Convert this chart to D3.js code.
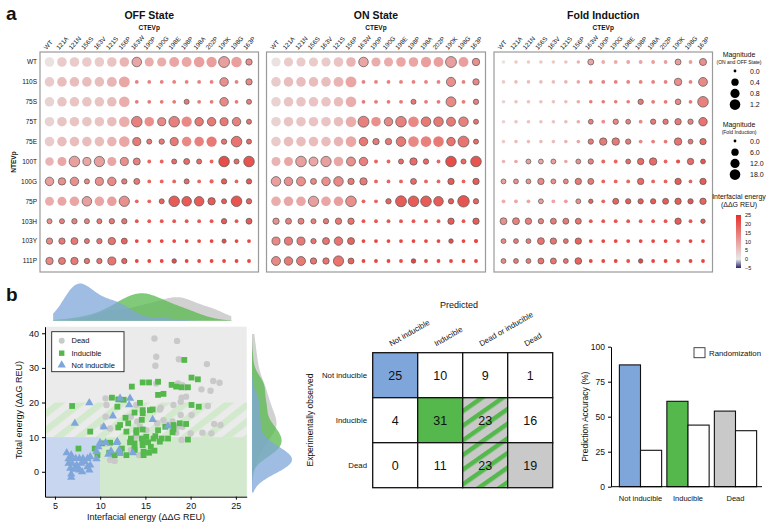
<!DOCTYPE html>
<html><head><meta charset="utf-8">
<script src="https://cdn.jsdelivr.net/npm/d3@7"></script>
<style>
body{margin:0;background:#fff}
svg{display:block}
text{font-family:"Liberation Sans",Arial,Helvetica,sans-serif;fill:#111}
</style>
</head><body>
<svg id="c" width="772" height="526"></svg>
<script>
// ---------------- DATA (panel a) ----------------
const cols = ["WT","121A","121N","156S","163V","121S","156P","163W","190P","190G","198E","198P","198A","202P","190K","198G","163P"];
const rows = ["WT","110S","75S","75T","75E","100T","100G","75P","103H","103Y","111P"];
const panelTitles = ["OFF State","ON State","Fold Induction"];

const energy = [
 [1,4,4,4,4,5,7,9,8,8,9,9,10,10,10,10,12],
 [4,6,6,6,6,7,9,14,14,14,14,14,14,14,12,14,13],
 [3,5,5,5,5,6,8,15,15,15,15,15,15,15,13,15,14],
 [3,5,5,5,5,6,8,14,12,13,14,13,15,15,15,14,16],
 [4,6,6,6,6,7,9,15,15,15,15,13,14,15,16,16,17],
 [7,9,10,9,10,9,12,14,18,18,17,17,17,18,21,17,20],
 [10,12,12,13,12,13,15,15,18,18,18,17,18,18,19,18,19],
 [8,9,9,10,9,10,12,18,18,18,19,19,19,19,19,20,18],
 [12,14,14,14,15,15,16,20,20,20,20,20,20,20,19,20,19],
 [13,15,15,16,16,16,18,22,22,22,22,22,22,22,21,22,22],
 [13,15,15,16,16,16,18,22,22,22,21,22,22,22,22,22,22]
];

const offMag = [
 [0.9,0.9,0.9,0.9,0.9,0.9,0.9,0.9,0.8,0.8,1.0,1.0,1.2,1.1,1.3,1.2,0.25],
 [0.9,0.9,0.9,0.9,0.9,1.0,1.3,0.02,0.02,0.02,0.02,0.02,0.02,0.02,0.65,0.02,0.25],
 [0.9,0.9,0.9,0.9,0.9,0.9,1.2,0.02,0.02,0.02,0.02,0.1,0.02,0.02,0.65,0.02,0.1],
 [0.9,0.9,0.9,0.9,0.9,0.9,1.2,1.2,0.9,0.55,1.2,1.1,0.64,0.64,0.55,0.64,0.1],
 [0.9,0.9,0.9,0.9,0.9,0.9,1.2,0.55,0.1,0.13,0.55,0.9,0.9,1.1,0.13,1.2,0.1],
 [0.64,0.75,1.2,0.55,1.1,0.75,0.55,0.35,0.02,0.02,0.1,0.2,0.1,0.02,1.2,0.1,1.2],
 [0.64,0.42,0.64,0.1,0.55,0.64,0.13,0.2,0.02,0.02,0.02,0.1,0.02,0.04,0.13,0.02,0.13],
 [0.75,0.75,0.9,0.9,0.9,0.9,1.1,0.02,0.02,0.1,1.2,0.9,0.9,0.42,0.1,1.2,0.13],
 [0.1,0.1,0.13,0.1,0.1,0.13,0.13,0.02,0.02,0.02,0.02,0.02,0.02,0.02,0.13,0.02,0.2],
 [0.25,0.25,0.35,0.1,0.13,0.42,0.2,0.02,0.02,0.02,0.02,0.02,0.02,0.02,0.04,0.02,0.02],
 [0.42,0.35,0.42,0.13,0.13,0.55,0.13,0.02,0.02,0.02,0.06,0.02,0.02,0.02,0.02,0.02,0.02]
];
const onMag = [
 [0.8,0.8,0.8,0.8,0.8,0.9,0.9,0.9,0.8,0.8,0.9,0.9,1.1,1.0,1.3,1.0,0.42],
 [0.9,0.9,0.9,0.9,0.9,1.0,1.3,0.02,0.02,0.02,0.02,0.02,0.02,0.02,0.8,0.02,0.25],
 [0.9,0.9,0.9,0.9,0.9,0.9,1.2,0.02,0.02,0.02,0.02,0.1,0.02,0.02,1.0,0.02,0.13],
 [0.9,0.9,0.9,0.9,0.9,0.9,1.2,1.3,0.9,0.64,1.2,1.2,0.9,0.9,0.75,0.9,0.1],
 [0.9,0.9,0.9,0.9,0.9,0.9,1.2,0.64,0.25,0.25,0.9,1.2,1.2,1.2,0.64,1.3,0.1],
 [0.75,0.75,1.2,0.75,1.1,0.9,0.75,0.64,0.02,0.02,0.1,0.42,0.13,0.02,1.2,0.1,1.2],
 [0.9,0.64,0.75,0.2,0.64,0.9,0.25,0.42,0.02,0.02,0.02,0.2,0.02,0.02,0.25,0.02,0.25],
 [0.9,0.9,0.9,1.1,0.9,0.9,1.2,0.02,0.02,0.13,1.3,1.2,1.2,0.9,0.13,1.5,0.13],
 [0.25,0.2,0.2,0.1,0.13,0.25,0.25,0.02,0.02,0.02,0.02,0.02,0.02,0.02,0.25,0.02,0.25],
 [0.55,0.55,0.55,0.13,0.35,0.64,0.35,0.02,0.02,0.02,0.02,0.02,0.02,0.02,0.06,0.02,0.04],
 [0.75,0.64,0.75,0.25,0.25,1.1,0.2,0.02,0.02,0.02,0.02,0.06,0.02,0.02,0.02,0.02,0.02]
];
const foldMag = [
 [0.2,0.2,0.2,0.2,0.2,0.2,0.2,3,0.3,0.3,0.3,0.3,0.3,0.3,3,0.3,5.5],
 [0.2,0.2,0.2,0.2,0.2,0.2,0.2,0.3,0.3,0.3,0.3,0.3,0.3,0.3,6.4,0.3,11],
 [0.2,0.2,0.2,0.2,0.2,0.2,0.2,0.2,0.2,0.2,0.2,2,0.3,0.3,2.5,0.3,18],
 [0.2,0.2,0.2,0.2,0.2,0.2,0.2,1.3,0.3,1.9,1.3,0.3,1.9,1.9,3.8,1.9,9.6],
 [0.2,0.2,0.2,0.2,0.2,0.2,0.2,1.9,6.4,6.4,1.9,0.3,0.3,0.3,6.4,1.3,3.8],
 [0.2,0.2,1.3,1.3,1.3,0.2,1.3,1.9,0.3,0.3,1.3,3.8,6.4,0.3,0.5,3.8,1.3],
 [1.3,1.3,1.3,3.8,1.3,1.3,3.8,3,0.3,0.3,0.3,3.8,0.3,0.3,3.8,0.3,3.8],
 [0.3,0.3,0.3,1.3,0.3,0.3,1.3,0.8,0.3,3,1.9,1.9,1.9,3,3.8,1.9,3.8],
 [5,5,3.8,1.9,3,3,3,0.3,0.3,0.3,0.3,0.3,0.3,0.3,3.8,0.3,0.8],
 [1.3,1.3,1.3,5,3.8,1.3,3.8,0.3,0.3,0.3,0.3,0.3,0.3,0.3,0.3,0.3,0.3],
 [1.3,1.3,1.3,3,3,1.3,4.5,0.3,0.3,0.3,0.3,0.8,0.3,0.3,0.3,0.3,0.3]
];
const offOutline = ["00000001000000101","00000000000000101","00000000000100101","00000001011011111","00000001111000111","00111011001110111","11111111000100101","00010010011111111","11111110000000101","11111110000000100","11111110001000000"];
const onOutline  = ["00000001000000101","00000000000000101","00000000000100101","00000001011011111","00000001111000111","00111011001110111","11111111000100101","00010010011111111","11111110000000101","11111110000000100","11111110000100000"];
const foldOutline= ["00000001000000101","00000000000000101","00000000000100101","00000001011011111","00000001111000111","00111011001110011","11111111000100101","00010011011111111","11111110000000101","11111110000000000","11111110000100000"];

const legendOnOff = [0.0,0.4,0.8,1.2];
const legendFold = [0.0,6.0,12.0,18.0];
const energyTicks = [25,20,15,10,5,0,-5];

// ---------------- DATA (panel b) ----------------
const deadPts = [[16.0,38.5],[18.5,37.8],[16.2,33.2],[16.1,30.6],[18.7,32.5],[21.8,31.1],[16.2,25.5],[18.6,25.5],[19.1,25.0],[19.4,24.4],[21.2,23.8],[22.5,26.2],[23.2,25.7],[22.2,23.4],[19.0,21.4],[19.5,21.7],[18.9,20.2],[18.1,19.3],[16.7,18.5],[21.9,19.0],[20.1,16.4],[18.9,16.4],[17.0,14.9],[18.0,14.5],[18.6,13.0],[19.1,13.0],[18.4,11.3],[20.0,11.1],[21.3,11.3],[22.3,11.1],[22.6,13.8],[23.3,13.5],[19.0,9.2],[10.6,21.2],[10.7,19.3],[10.6,15.9],[10.3,13.0],[11.1,12.5],[14.0,19.3],[14.4,13.0],[14.1,14.5],[15.1,12.0],[15.1,9.3],[13.9,10.1],[11.1,3.4],[11.6,3.1],[13.4,6.3],[14.3,4.8],[16.6,18.0],[17.5,13.5],[16.3,14.0],[10.7,8.2],[13.4,15.9]];
const induciblePts = [[6.9,19.0],[7.6,6.7],[8.9,11.6],[9.4,6.7],[9.7,4.8],[11.1,8.4],[11.6,4.8],[11.3,21.4],[12.0,20.9],[12.6,20.8],[11.9,18.8],[12.8,15.6],[12.0,12.8],[12.2,13.5],[12.9,11.6],[13.3,8.5],[12.4,6.7],[12.9,4.8],[13.5,24.6],[13.8,17.1],[14.0,11.3],[13.8,8.2],[13.8,6.7],[14.4,19.9],[14.6,15.0],[14.7,12.2],[14.6,9.6],[14.7,25.8],[15.4,25.8],[14.7,17.8],[14.7,16.9],[14.7,8.7],[14.7,7.7],[14.8,5.8],[14.8,4.8],[15.3,8.5],[15.4,5.5],[15.5,17.8],[15.8,18.0],[15.9,9.6],[16.1,10.3],[16.4,26.0],[16.4,22.2],[16.4,12.0],[16.6,8.7],[16.8,9.6],[17.0,22.5],[15.6,7.2],[16.0,6.1],[17.2,13.0],[17.5,9.6],[17.9,25.1],[18.1,12.2],[18.0,11.4],[18.4,24.6],[18.8,14.0],[19.0,24.4],[19.3,32.3],[19.5,13.8],[19.7,24.4],[19.7,9.3],[20.1,27.2],[20.1,19.3],[20.8,26.7],[20.9,18.8],[13.4,9.6],[14.0,12.0],[15.1,10.1],[13.1,14.0],[11.0,5.5],[10.2,8.2],[12.2,5.5],[13.8,6.3],[18.1,13.5]];
const notInduciblePts = [[6.3,5.5],[6.5,3.7],[6.8,3.8],[7.3,3.8],[7.7,3.8],[8.1,3.8],[8.6,3.8],[8.9,4.3],[6.5,2.4],[6.9,2.4],[7.4,1.9],[7.9,2.4],[8.6,1.4],[6.7,1.0],[7.1,0.7],[7.7,0.5],[6.8,-0.7],[8.0,0.0],[8.8,0.5],[6.8,-1.6],[9.6,5.8],[9.6,3.7],[9.8,7.2],[10.0,8.4],[10.6,8.4],[10.9,5.0],[11.8,8.4],[12.1,6.3],[12.2,5.3],[13.6,5.5],[11.2,6.0],[7.2,14.0],[8.8,19.9],[13.2,19.3],[12.2,21.2],[11.4,16.1],[15.8,15.1],[17.5,13.2],[13.3,21.2],[6.8,4.8],[8.3,2.9],[7.5,1.4],[8.9,1.9],[11.9,8.7],[10.4,13.0]];

const predictedLabels = ["Not inducible","Inducible","Dead or inducible","Dead"];
const observedLabels = ["Not inducible","Inducible","Dead"];
const confusion = [[25,10,9,1],[4,31,23,16],[0,11,23,19]];

const accCats = ["Not inducible","Inducible","Dead"];
const accuracy = [87,61,54];
const randomAcc = [26,44,40];

// ---------------- DRAW ----------------
const svg = d3.select("#c");
const FONT = '"Liberation Sans",Arial,Helvetica,sans-serif';
const blue="#7fa6da", green="#55b84c", grey="#c9c9c9";
const lightBlue="#c8d6ef", lightGreen="#d3e9cd", bgGrey="#ebebeb";

const defs = svg.append("defs");
defs.append("pattern").attr("id","cmStripe").attr("patternUnits","userSpaceOnUse")
  .attr("width",12).attr("height",12).attr("patternTransform","rotate(55)")
  .call(p=>{p.append("rect").attr("width",12).attr("height",12).attr("fill",grey);
            p.append("rect").attr("width",4.5).attr("height",12).attr("fill",green);});
defs.append("pattern").attr("id","bandStripe").attr("patternUnits","userSpaceOnUse")
  .attr("width",13).attr("height",13).attr("patternTransform","rotate(52)")
  .call(p=>{p.append("rect").attr("width",13).attr("height",13).attr("fill",bgGrey);
            p.append("rect").attr("width",6.5).attr("height",13).attr("fill",lightGreen);});
const grad = defs.append("linearGradient").attr("id","eGrad").attr("x1",0).attr("y1",1).attr("x2",0).attr("y2",0);

const color = d3.scaleLinear().domain([-5,0,25]).range(["#24246a","#e9e9e9","#e8302a"]);
[-5,0,5,10,15,20,25].forEach(v=>grad.append("stop").attr("offset",(v+5)/30).attr("stop-color",color(v)));

svg.append("text").attr("x",6).attr("y",20).attr("font-size",19).attr("font-weight","bold").text("a");
svg.append("text").attr("x",6).attr("y",301).attr("font-size",19).attr("font-weight","bold").text("b");

const panels = [
 {x0:40,x1:258.5,mag:offMag,out:offOutline,dom:[0,1.2]},
 {x0:266.5,x1:485.5,mag:onMag,out:onOutline,dom:[0,1.2]},
 {x0:494,x1:712.5,mag:foldMag,out:foldOutline,dom:[0,18]}
];
const RR = [1.4,5.3];
const yRow = d3.scalePoint().domain(rows).range([62,261]);
panels.forEach((p,pi)=>{
  const g = svg.append("g");
  const x = d3.scalePoint().domain(cols).range([p.x0+9.5,p.x1-9.5]);
  const r = d3.scaleSqrt().domain(p.dom).range(RR);
  const cx = (p.x0+p.x1)/2;
  g.append("rect").attr("x",p.x0).attr("y",52).attr("width",p.x1-p.x0).attr("height",220)
   .attr("fill","#fff").attr("stroke","#9a9a9a").attr("stroke-width",1.2);
  g.append("text").attr("x",cx).attr("y",19).attr("text-anchor","middle").attr("font-size",10.5).attr("font-weight","bold").text(panelTitles[pi]);
  g.append("text").attr("x",cx).attr("y",30).attr("text-anchor","middle").attr("font-size",6.5).attr("font-weight","bold").text("CTEVp");
  cols.forEach(c=>{
    g.append("text").attr("transform",`translate(${x(c)-3},50) rotate(-48)`).attr("font-size",6.3).text(c);
  });
  rows.forEach((rw,i)=>{
    cols.forEach((c,j)=>{
      const outl = p.out[i][j]==="1";
      g.append("circle").attr("cx",x(c)).attr("cy",yRow(rw)).attr("r",r(p.mag[i][j]))
        .attr("fill",color(energy[i][j]))
        .attr("stroke",outl?"#555":"none").attr("stroke-width",0.7);
    });
  });
  if(pi===0){
    rows.forEach(rw=>g.append("text").attr("x",37).attr("y",yRow(rw)+2.3).attr("text-anchor","end").attr("font-size",6.5).text(rw));
    g.append("text").attr("transform","translate(16,162) rotate(-90)").attr("text-anchor","middle").attr("font-size",6.5).attr("font-weight","bold").text("NTEVp");
  }
});

// legends for panel a
const rLeg = d3.scaleSqrt().domain([0,1.2]).range(RR);
const rLegF = d3.scaleSqrt().domain([0,18]).range(RR);
const L = svg.append("g");
L.append("text").attr("x",739).attr("y",57).attr("text-anchor","middle").attr("font-size",7).text("Magnitude");
L.append("text").attr("x",739).attr("y",64).attr("text-anchor","middle").attr("font-size",5).text("(ON and OFF State)");
legendOnOff.forEach((v,i)=>{
  const yy = 71+i*11.2;
  L.append("circle").attr("cx",735).attr("cy",yy).attr("r",rLeg(v)).attr("fill","#000");
  L.append("text").attr("x",750).attr("y",yy+2.5).attr("font-size",7).text(v.toFixed(1));
});
L.append("text").attr("x",739).attr("y",127).attr("text-anchor","middle").attr("font-size",7).text("Magnitude");
L.append("text").attr("x",739).attr("y",134).attr("text-anchor","middle").attr("font-size",5).text("(Fold Induction)");
legendFold.forEach((v,i)=>{
  const yy = 141+i*11.2;
  L.append("circle").attr("cx",735).attr("cy",yy).attr("r",rLegF(v)).attr("fill","#000");
  L.append("text").attr("x",750).attr("y",yy+2.5).attr("font-size",7).text(v.toFixed(1));
});
L.append("text").attr("x",739).attr("y",199).attr("text-anchor","middle").attr("font-size",7).text("Interfacial energy");
L.append("text").attr("x",739).attr("y",207).attr("text-anchor","middle").attr("font-size",7).text("(\u0394\u0394G REU)");
const eScale = d3.scaleLinear().domain([-5,25]).range([268,215]);
L.append("rect").attr("x",736).attr("y",eScale(25)).attr("width",5).attr("height",eScale(-5)-eScale(25)).attr("fill","url(#eGrad)");
energyTicks.forEach(v=>{
  L.append("text").attr("x",745).attr("y",eScale(v)+2).attr("font-size",5.5).text(v<0?"\u2212"+Math.abs(v):v);
});

// ---------------- scatter ----------------
const sx = d3.scaleLinear().domain([3.9,26.2]).range([45,246.7]);
const sy = d3.scaleLinear().domain([-7.2,41.9]).range([496.7,326.7]);
const S = svg.append("g");
S.append("rect").attr("x",sx(3.9)).attr("y",sy(41.9)).attr("width",sx(26.2)-sx(3.9)).attr("height",sy(-7.2)-sy(41.9)).attr("fill",bgGrey);
S.append("rect").attr("x",sx(3.9)).attr("y",sy(20)).attr("width",sx(26.2)-sx(3.9)).attr("height",sy(10)-sy(20)).attr("fill","url(#bandStripe)");
S.append("rect").attr("x",sx(3.9)).attr("y",sy(10)).attr("width",sx(10)-sx(3.9)).attr("height",sy(-7.2)-sy(10)).attr("fill",lightBlue);
S.append("rect").attr("x",sx(10)).attr("y",sy(10)).attr("width",sx(26.2)-sx(10)).attr("height",sy(-7.2)-sy(10)).attr("fill",lightGreen);

S.selectAll(".dead").data(deadPts).join("circle").attr("cx",d=>sx(d[0])).attr("cy",d=>sy(d[1])).attr("r",3.2).attr("fill",grey);
S.selectAll(".ind").data(induciblePts).join("rect").attr("x",d=>sx(d[0])-2.9).attr("y",d=>sy(d[1])-2.9).attr("width",5.8).attr("height",5.8).attr("fill",green);
const tri = d3.symbol().type(d3.symbolTriangle).size(30);
S.selectAll(".ni").data(notInduciblePts).join("path").attr("d",tri).attr("transform",d=>`translate(${sx(d[0])},${sy(d[1])})`).attr("fill",blue);

const ax = S.append("g").attr("transform","translate(0,496.7)").call(d3.axisBottom(sx).tickValues([5,10,15,20,25]).tickSize(3).tickSizeOuter(0));
const ay = S.append("g").attr("transform","translate(45,0)").call(d3.axisLeft(sy).tickValues([0,10,20,30,40]).tickSize(3).tickSizeOuter(0));
[ax,ay].forEach(a=>{a.selectAll("text").attr("font-size",9).attr("font-family",FONT).attr("fill","#222");a.selectAll("path,line").attr("stroke","#000");});
S.append("text").attr("x",146).attr("y",520).attr("text-anchor","middle").attr("font-size",9).text("Interfacial energy (\u0394\u0394G REU)");
S.append("text").attr("transform","translate(22,410) rotate(-90)").attr("text-anchor","middle").attr("font-size",9).text("Total energy (\u0394\u0394G REU)");

// legend
const SL = S.append("g");
SL.append("rect").attr("x",51.7).attr("y",331.7).attr("width",72.3).attr("height",40).attr("fill","#fff").attr("stroke","#222").attr("stroke-width",0.9);
SL.append("circle").attr("cx",61.7).attr("cy",340.7).attr("r",3).attr("fill",grey);
SL.append("rect").attr("x",59).attr("y",350.5).attr("width",5.4).attr("height",5.4).attr("fill",green);
SL.append("path").attr("d",tri).attr("transform","translate(61.7,365)").attr("fill",blue);
[["Dead",340.7],["Inducible",353.3],["Not inducible",365.5]].forEach(d=>
  SL.append("text").attr("x",71.5).attr("y",d[1]+2.7).attr("font-size",7.5).text(d[0]));

// marginal densities
function kde(vals,bw,grid){return grid.map(t=>[t,d3.mean(vals,v=>Math.exp(-0.5*((t-v)/bw)**2))/(bw*Math.sqrt(2*Math.PI))]);}
const gx = d3.range(4.8,24.6,0.1);
const topSets = [[deadPts,grey,1.6],[induciblePts,green,1.8],[notInduciblePts,blue,1.3]];
const topD = topSets.map(s=>kde(s[0].map(d=>d[0]),s[2],gx));
const topMax = d3.max(topD,d=>d3.max(d,e=>e[1]));
const th = d3.scaleLinear().domain([0,topMax]).range([320.7,283.5]);
topD.forEach((dd,i)=>{
  S.append("path").datum(dd).attr("d",d3.area().x(d=>sx(d[0])).y0(320.7).y1(d=>th(d[1])).curve(d3.curveBasis))
   .attr("fill",topSets[i][1]).attr("fill-opacity",i===0?0.85:0.75);
});
const gy = d3.range(-6,40,0.2);
const sideSets = [[deadPts,grey,3.6],[induciblePts,green,2.6],[notInduciblePts,blue,2.8]];
const sideD = sideSets.map(s=>kde(s[0].map(d=>d[1]),s[2],gy));
const sideMax = d3.max(sideD,d=>d3.max(d,e=>e[1]));
const sw = d3.scaleLinear().domain([0,sideMax]).range([252,292]);
sideD.forEach((dd,i)=>{
  S.append("path").datum(dd).attr("d",d3.area().y(d=>sy(d[0])).x0(252).x1(d=>sw(d[1])).curve(d3.curveBasis))
   .attr("fill",sideSets[i][1]).attr("fill-opacity",i===0?0.85:0.75);
});

// ---------------- confusion matrix ----------------
const cmX = d3.scaleBand().domain(predictedLabels).range([372.7,552.7]);
const cmY = d3.scaleBand().domain(observedLabels).range([352.7,487.7]);
const cellStyle = [["ni","w","w","w"],["w","ind","stripe","w"],["w","w","stripe","dead"]];
const styleFill = {ni:blue,ind:green,stripe:"url(#cmStripe)",dead:grey,w:"#fff"};
const C = svg.append("g");
C.append("text").attr("x",459).attr("y",308).attr("text-anchor","middle").attr("font-size",9).text("Predicted");
observedLabels.forEach((o,i)=>{
  predictedLabels.forEach((p,j)=>{
    C.append("rect").attr("x",cmX(p)).attr("y",cmY(o)).attr("width",cmX.bandwidth()).attr("height",cmY.bandwidth())
     .attr("fill",styleFill[cellStyle[i][j]]).attr("stroke","#111").attr("stroke-width",1.3);
    C.append("text").attr("x",cmX(p)+cmX.bandwidth()/2).attr("y",cmY(o)+cmY.bandwidth()/2+4.5).attr("text-anchor","middle").attr("font-size",12.5).text(confusion[i][j]);
  });
  C.append("text").attr("x",367).attr("y",cmY(o)+cmY.bandwidth()/2+2.7).attr("text-anchor","end").attr("font-size",7.8).text(o);
});
predictedLabels.forEach(p=>{
  C.append("text").attr("transform",`translate(${cmX(p)+cmX.bandwidth()/2-4},346.5) rotate(-30)`).attr("font-size",7.8).text(p);
});
C.append("text").attr("transform","translate(313,420) rotate(-90)").attr("text-anchor","middle").attr("font-size",8.5).text("Experimentally observed");

// ---------------- bar chart ----------------
const by = d3.scaleLinear().domain([0,100]).range([486.7,346.7]);
const bx = d3.scaleBand().domain(accCats).range([617,759]).paddingInner(0.11).paddingOuter(0.05);
const B = svg.append("g");
const barFill = [blue,green,grey];
accCats.forEach((c,i)=>{
  const w = bx.bandwidth()/2;
  B.append("rect").attr("x",bx(c)).attr("y",by(accuracy[i])).attr("width",w).attr("height",by(0)-by(accuracy[i])).attr("fill",barFill[i]).attr("stroke","#111").attr("stroke-width",1.1);
  B.append("rect").attr("x",bx(c)+w).attr("y",by(randomAcc[i])).attr("width",w).attr("height",by(0)-by(randomAcc[i])).attr("fill","#fff").attr("stroke","#111").attr("stroke-width",1.1);
  B.append("text").attr("x",bx(c)+bx.bandwidth()/2).attr("y",501).attr("text-anchor","middle").attr("font-size",7.5).text(c);
});
const bay = B.append("g").attr("transform","translate(611,0)").call(d3.axisLeft(by).tickValues([0,25,50,75,100]).tickSize(3).tickSizeOuter(0));
bay.selectAll("text").attr("font-size",8.5).attr("font-family",FONT).attr("fill","#222");
bay.selectAll("path,line").attr("stroke","#000");
B.append("line").attr("x1",611).attr("x2",762).attr("y1",486.7).attr("y2",486.7).attr("stroke","#000");
B.append("text").attr("transform","translate(588,416.7) rotate(-90)").attr("text-anchor","middle").attr("font-size",8.5).text("Prediction Accuracy (%)");
B.append("rect").attr("x",694).attr("y",347.7).attr("width",11).attr("height",10).attr("fill","#fff").attr("stroke","#333").attr("stroke-width",0.9);
B.append("text").attr("x",709).attr("y",355.5).attr("font-size",7.8).text("Randomization");
</script>
</body></html>
